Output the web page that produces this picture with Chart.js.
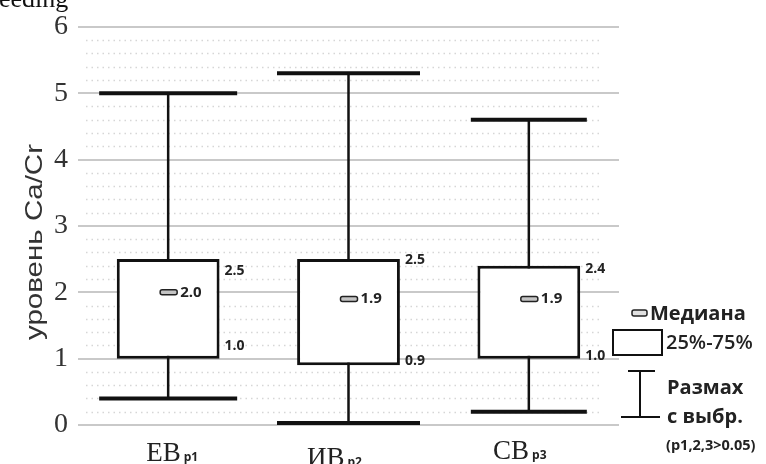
<!DOCTYPE html>
<html>
<head>
<meta charset="utf-8">
<script src="https://cdn.jsdelivr.net/npm/chart.js@4.4.1/dist/chart.umd.min.js"></script>
<style>
  html, body { margin: 0; padding: 0; background: #fff; }
  #wrap { width: 766px; height: 464px; position: relative; }
</style>
</head>
<body>
<div id="wrap"><canvas id="boxChart"></canvas></div>
<script>
const categories = ["ЕВ", "ИВ", "СВ"];
const subLabels = ["p1", "p2", "p3"];
const mins = [0.4, 0.03, 0.2];
const q1 = [1.0, 0.9, 1.0];
const medians = [2.0, 1.9, 1.9];
const q3 = [2.5, 2.5, 2.4];
const maxs = [5.0, 5.3, 4.6];
const yTicks = [0, 1, 2, 3, 4, 5, 6];
const yTitle = 'уровень Ca/Cr';

// небольшие сдвиги подписей, как на исходной картинке
const capWidths = [138, 143, 116];
const topLabelShift = [12, 1, 3];
const bottomLabelShift = [-13, -4, -3];
const xLabelShift = [4, -14, -9];
const xLabelBase = [461, 466, 459];

function line(ctx, x1, y1, x2, y2) {
  ctx.beginPath();
  ctx.moveTo(x1, y1);
  ctx.lineTo(x2, y2);
  ctx.stroke();
}

const boxPlugin = {
  id: 'boxPlugin',
  beforeDatasetsDraw(chart) {
    const { ctx, chartArea: a, scales: { x, y } } = chart;
    ctx.save();
    // пунктирная сетка через 0.2
    ctx.strokeStyle = '#d6d6d6';
    ctx.lineWidth = 1.5;
    ctx.setLineDash([1.5, 4]);
    for (let k = 1; k < 30; k++) {
      if (k % 5 === 0) continue;
      const py = Math.round(y.getPixelForValue(k * 0.2)) + 0.5;
      line(ctx, a.left + 8, py, a.right - 18, py);
    }
    ctx.setLineDash([]);
    // усы
    ctx.strokeStyle = '#111';
    categories.forEach((c, i) => {
      const px = x.getPixelForValue(i);
      const yMin = y.getPixelForValue(mins[i]);
      const yMax = y.getPixelForValue(maxs[i]);
      ctx.lineWidth = 2.5;
      line(ctx, px, yMin, px, yMax);
      ctx.lineWidth = 4;
      line(ctx, px - capWidths[i] / 2, yMax, px + capWidths[i] / 2, yMax);
      line(ctx, px - capWidths[i] / 2, yMin, px + capWidths[i] / 2, yMin);
    });
    ctx.restore();
  },
  afterDatasetsDraw(chart) {
    const { ctx, scales: { x, y } } = chart;
    const meta = chart.getDatasetMeta(0);
    ctx.save();
    ctx.textBaseline = 'middle';
    categories.forEach((c, i) => {
      const px = x.getPixelForValue(i);
      const bar = meta.data[i];
      const right = bar.x + bar.width / 2;
      // медиана
      const ym = y.getPixelForValue(medians[i]);
      ctx.fillStyle = '#c4c4c4';
      ctx.strokeStyle = '#222';
      ctx.lineWidth = 1.5;
      ctx.beginPath();
      ctx.roundRect(px - 8, ym - 2.5, 17, 5, 2);
      ctx.fill();
      ctx.stroke();
      ctx.fillStyle = '#222';
      ctx.font = 'bold 15px "Open Sans"';
      ctx.textAlign = 'left';
      ctx.fillText(medians[i].toFixed(1), px + 12, ym);
      // квартили
      ctx.font = 'bold 14px "Open Sans"';
      ctx.fillText(q3[i].toFixed(1), right + 5, y.getPixelForValue(q3[i]) + topLabelShift[i]);
      ctx.fillText(q1[i].toFixed(1), right + 5, y.getPixelForValue(q1[i]) + bottomLabelShift[i]);
      // подписи категорий
      ctx.textBaseline = 'alphabetic';
      ctx.font = '27px "Liberation Serif"';
      const w1 = ctx.measureText(c).width;
      ctx.font = 'bold 12px "Open Sans"';
      const w2 = ctx.measureText(subLabels[i]).width;
      const x0 = px + xLabelShift[i] - (w1 + 3 + w2) / 2;
      ctx.font = '27px "Liberation Serif"';
      ctx.fillText(c, x0, xLabelBase[i]);
      ctx.font = 'bold 12px "Open Sans"';
      ctx.fillText(subLabels[i], x0 + w1 + 3, xLabelBase[i]);
      ctx.textBaseline = 'middle';
    });

    // легенда
    ctx.strokeStyle = '#222';
    ctx.fillStyle = '#e0e0e0';
    ctx.lineWidth = 1.5;
    ctx.beginPath();
    ctx.roundRect(632, 310, 15, 6, 2);
    ctx.fill();
    ctx.stroke();
    ctx.strokeStyle = '#111';
    ctx.lineWidth = 2;
    ctx.strokeRect(613, 330, 49, 25);
    line(ctx, 640, 371, 640, 417);
    line(ctx, 628, 371, 655, 371);
    line(ctx, 621, 417, 660, 417);

    ctx.fillStyle = '#222';
    ctx.textAlign = 'left';
    ctx.font = 'bold 20px "Open Sans"';
    ctx.fillText('Медиана', 650, 314);
    ctx.font = '600 20px "Open Sans"';
    ctx.fillText('25%-75%', 666, 343);
    ctx.font = 'bold 20px "Open Sans"';
    ctx.fillText('Размах', 667, 388);
    ctx.fillText('с выбр.', 667, 417);
    ctx.font = 'bold 14.5px "Open Sans"';
    ctx.fillText('(p1,2,3>0.05)', 666, 446);

    // подпись оси Y (немного растянута по длине, как в оригинале)
    ctx.save();
    ctx.font = '24px "Liberation Sans"';
    ctx.fillStyle = '#333';
    ctx.textAlign = 'center';
    ctx.textBaseline = 'alphabetic';
    const tw = ctx.measureText(yTitle).width;
    ctx.translate(42, 242);
    ctx.rotate(-Math.PI / 2);
    ctx.scale(196 / tw, 1);
    ctx.fillText(yTitle, 0, 0);
    ctx.restore();

    // обрезанный текст сверху
    ctx.textBaseline = 'alphabetic';
    ctx.font = '26px "Liberation Serif"';
    ctx.fillStyle = '#111';
    ctx.fillText('eeding', -1, 7);
    ctx.restore();
  }
};

const ctx = document.getElementById('boxChart').getContext('2d');

new Chart(ctx, {
  type: 'bar',
  data: {
    labels: categories,
    datasets: [{
      label: '25%-75%',
      data: q1.map((v, i) => [v, q3[i]]),
      backgroundColor: '#ffffff',
      borderColor: '#111',
      borderWidth: 3,
      borderSkipped: false,
      categoryPercentage: 1,
      barPercentage: 0.57
    }]
  },
  options: {
    responsive: true,
    maintainAspectRatio: false,
    animation: false,
    layout: { padding: { top: 24, right: 147, bottom: 0, left: 0 } },
    plugins: {
      legend: { display: false },
      tooltip: { enabled: false }
    },
    scales: {
      x: {
        grid: { display: false },
        border: { display: false },
        ticks: { display: false },
        afterFit: s => { s.height = 39; }
      },
      y: {
        min: 0,
        max: 6,
        afterBuildTicks: s => { s.ticks = yTicks.map(v => ({ value: v })); },
        grid: { color: '#c9c9c9', lineWidth: 2, drawTicks: false },
        border: { display: false },
        ticks: {
          padding: 10,
          color: '#333',
          font: { family: 'Liberation Serif', size: 28 }
        },
        afterFit: s => { s.width = 78; }
      }
    }
  },
  plugins: [boxPlugin]
});
</script>
</body>
</html>
